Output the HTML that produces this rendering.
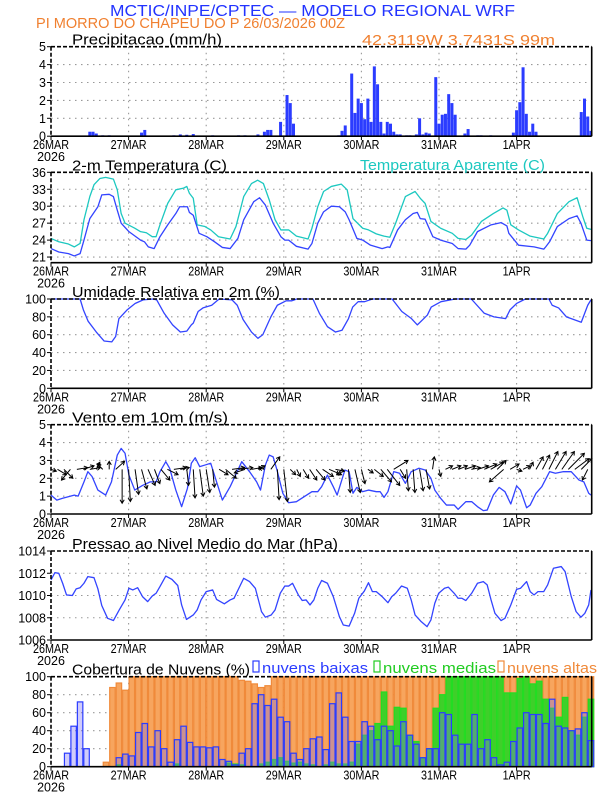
<!DOCTYPE html>
<html><head><meta charset="utf-8">
<style>
html,body{margin:0;padding:0;background:#fff;}
svg{display:block;font-family:"Liberation Sans",sans-serif;}
</style></head>
<body>
<svg id="chart" width="612" height="792" viewBox="0 0 612 792" xmlns="http://www.w3.org/2000/svg">
<text x="110" y="16" font-size="16" fill="#2233ff" textLength="405" lengthAdjust="spacingAndGlyphs">MCTIC/INPE/CPTEC — MODELO REGIONAL WRF</text>
<text x="36" y="28" font-size="15" fill="#f08030" textLength="309" lengthAdjust="spacingAndGlyphs">PI MORRO DO CHAPEU DO P  26/03/2026 00Z</text>
<text x="362" y="45" font-size="15" fill="#f08030" textLength="193" lengthAdjust="spacingAndGlyphs">42.3119W 3.7431S 99m</text>
<g id="layer"></g>
</svg>
<script>
// ---------- DATA ----------
const dayLabels = ["26MAR","27MAR","28MAR","29MAR","30MAR","31MAR","1APR"];
const precipHours = [12,13,13,14,16,18,28,29,38,40,42,44,50,58,60,64,66,67,68,71,73,74,75,89,90,91,93,94,95,96,97,98,99,100,101,102,103,104,105,106,107,108,110,111,113,114,115,116,117,119,120,121,122,123,124,125,128,129,132,133,136,143,144,145,146,147,148,149,150,164,165,166,167];
const precipValues = [0.25,0.25,0.15,0.15,0.05,0.05,0.2,0.35,0.05,0.1,0.08,0.12,0.05,0.05,0.05,0.1,0.25,0.35,0.35,0.8,2.3,1.85,0.7,0.05,0.3,0.6,3.5,1.3,2.1,1.85,0.95,2.1,0.8,3.9,2.9,0.8,0.15,0.8,0.7,0.25,0.1,0.1,0.05,0.05,0.1,1.0,0.1,0.2,0.15,3.3,0.7,1.2,1.25,2.35,1.85,1.2,0.15,0.4,0.05,0.05,0.05,0.2,1.45,1.9,3.85,1.25,0.25,0.7,0.25,1.35,2.1,1.1,0.3];
const tempHours = [0,2.4,5.4,7.2,9,10.2,12,14.5,15.7,18,19.3,20.5,21.7,24.1,27.7,28.9,30.1,31.9,33.7,36.1,38.6,39.8,42.2,42.8,44,45.8,48.2,50.6,53,55.4,57.8,59.6,62.7,64.5,66.3,68.7,71.1,72.3,73.5,75.9,79.5,80.7,82.5,84.3,86.7,89.2,91,92.2,94.6,96.4,98.8,102.4,104.2,104.8,107.2,109.6,112,113.3,114.2,115.7,118.1,120.5,124.1,125.9,128.3,129.5,131.9,136.1,139.2,141,141.6,144.6,149.4,152.4,153,154.2,156.6,160.2,162.7,163.9,165.7,167];
const tempValues = [22.5,21.9,21.6,21.2,21.6,24,27.8,29.9,32,32.1,31.7,29.3,27,25.5,24,23.7,22.8,22.5,24.6,26.7,28.7,29.9,29.9,28.9,28.4,25.2,24.6,23.7,22.7,22.5,24.3,27.6,30.8,31.5,30.2,27,24.6,24,24,22.9,22.4,23.4,27,29,30,29.9,29,27.6,24.3,24,23.1,22.5,22.8,22.7,25.8,27.6,28.7,28.9,27.8,27.7,24.6,24,23.4,22.5,22.4,23.1,25.5,26.7,27.1,26.5,25.2,23.1,22.8,22.4,22.8,23.7,26.4,27.8,28.3,27,24,23.9];
const appHours = [0,2.4,5.4,7.2,9,10.2,12,13.3,15.1,16.9,19.3,20.5,21.7,22.9,25.9,27.7,29.5,31.3,32.5,33.7,36.1,38.6,41,42,42.8,44,45.2,47.6,49.4,51.8,55.4,57.2,59.6,62,63.9,65.7,67.5,69.3,71.1,73.5,75.9,79.5,80.7,82.5,84.3,86.7,89.8,91.6,93.4,96.4,98.2,100.6,103,104.8,106.6,109.6,112.6,114.2,115.7,117.5,120.5,124.1,125.9,128.3,130.1,133.1,136.8,139.8,141,142.2,144.6,148.2,152.4,153.6,156.6,160.2,162.7,164.5,165.7,167];
const appValues = [24.3,23.7,23.3,22.8,23.4,27.6,31.7,33.8,34.9,35.1,34.8,32.9,28.7,27,26.1,25.5,25.3,24.6,24.6,26.7,30.5,32.9,33.2,33.5,32.3,31.4,26.7,26.4,25.8,24.6,24.2,26.4,31.7,34,34.6,34,31.1,27.6,25.8,25.8,24.7,24.2,26.1,29.9,32.6,33.5,33.9,32.9,27.8,26.1,25.8,25.1,24.7,24.5,27,31.7,32.6,31.4,30.5,27.3,26.1,25.2,24.3,24.1,24.9,27.3,28.7,29.7,29.3,26.7,25.8,24.7,24.2,25.2,28.7,30.8,31.5,28.1,26.1,25.9];
const rhHours = [0,9,10,11.5,14,16.4,18.8,20,21,23.6,26,28.5,31.5,32.7,35,37.6,40,42,43.4,44,45.5,47,49.7,52,56,57.6,59.4,62,64,65.5,68,70,72.7,74.5,76,81,83,85.5,88,90,92,93.3,95,97,99.4,105.5,108.5,111.5,113.3,115,116.4,117.6,120.6,125,130,134,137,140.6,142,144,146.7,154,155,157,159.4,164,166,167];
const rhValues = [100,100,88,75,63,53,52,58,78,88,95,99,100,99,84,71,63,64,71,73,86,90,93,100,99,93,77,63,56,60,80,93,98,98,100,100,84,69,63,65,78,91,97,97,100,100,86,78,71,77,82,91,97,100,100,84,80,78,88,95,100,100,93,90,80,74,93,99];
const windHours = [0,1.8,3.6,7.2,8.4,10.2,11.4,12.7,14.5,16.9,18.7,20.5,21.7,22.9,24.1,25.9,28.3,30.7,32.5,33.7,35.5,36.7,38.6,40.4,42.2,43.4,44.6,46,47.6,49.4,51.2,53,55.4,57.8,59,61.4,63.6,64.8,66.3,67.5,68.7,69.9,71.7,73.5,75.9,78.3,80.7,82.5,83.7,85.5,87.3,88.5,90.1,90.9,92.2,93.4,94.6,96.4,98.2,100.6,101.8,103,104.2,106,107.8,109.6,111.4,113.8,115.7,117.5,118.7,120.5,122.3,124.7,125.9,128.3,130.1,131.9,133.7,134.9,136.8,138.6,140.4,142.2,144,145.2,147.1,148.2,150,151.8,154.2,156,158.5,160.9,163.3,164.8,166.3,167];
const windSpeed = [1.06,0.78,0.88,1.06,1.0,1.8,2.37,2.1,1.34,1.06,1.8,3.3,3.67,3.4,2.18,1.34,1.6,1.8,1.8,2.37,2.93,2.56,1.34,0.41,1.44,2.84,3.15,2.65,2.74,2.84,1.8,0.78,1.53,2.46,2.93,2.37,1.8,1.34,2.74,3.3,3.2,2.46,1.16,0.63,0.69,0.97,1.25,1.25,1.53,2.18,1.53,1.06,2.0,2.46,2.37,1.16,1.49,1.25,1.34,1.25,1.25,0.93,1.25,2.37,2.28,1.72,2.37,2.56,2.46,2.0,1.34,0.88,0.5,0.5,0.26,0.69,0.69,0.41,0.19,0.22,1.06,1.49,1.25,0.56,1.57,1.34,0.35,0.5,1.16,1.53,2.37,2.28,2.37,2.37,1.9,1.8,1.16,1.06];
const windU = [0.3,0.5,0.5,-0.5,0.6,0.6,0.6,0.2,-0.3,0,0.5,0,0.1,0.2,0.3,0.4,0.3,0.5,0.6,0.7,0.5,0.1,0.1,0.2,0.2,0.1,0.5,0.6,0.7,0.8,-0.6,0.6,0.4,-0.3,0.5,0.1,0.2,0.3,0.2,0.3,0.4,0.5,0.6,0.7,0.5,-0.3,0.1,0.3,0.2,0.3,0.5,0.6,0.7,0.8,0.3,0.1,0.1,0.2,0.2,0.1,0.1,0.4,0.5,0.5,0.6,0.5,0.6,0.7,0.7,0.5,-0.8,0.5,0.3,0.4,0.2,0.4,0.4,0.5,0.6,0.7,0.9,0.8,0.6,-0.3];
const windV = [-0.1,-0.3,-0.5,-0.6,0.1,0.2,0.1,0.4,0.3,0.45,0.45,-1.9,-1.8,-1.4,-1.1,-0.9,-0.8,-0.6,-0.3,0.1,0.1,-0.9,-1.6,-1.5,-1.3,-1.0,-0.3,-0.5,0.1,0.1,-0.2,0.1,0.2,0.1,0.7,-1.7,-1.8,-0.3,-0.4,-0.5,-0.6,-0.6,-0.4,-0.3,-0.1,-0.3,-1.3,-1.3,-0.8,-0.2,-0.4,-0.7,-0.9,0.5,-0.5,-1.2,-1.3,-1.2,-1.1,0.7,-0.4,0.2,0.2,0.2,0.2,0.1,0.2,0.3,0.4,0.5,-0.7,0.3,-0.1,0.2,0.4,0.7,0.8,1.0,1.0,1.0,0.9,0.6,0.6,-0.6];
const presHours = [0,1.2,2.4,3.6,4.8,6.6,7.8,9,10.2,11.4,13.3,14.5,15.7,17.5,19.3,21.1,22.9,24.1,25.3,26.8,28.3,29.9,31.3,32.5,33.7,35.5,37.4,39.2,40.4,41.9,44,45.2,46.4,48,50,51.2,53.6,55.4,56.6,58.1,59.6,61.4,63.2,65.1,66.3,68.1,69.3,70.9,72.3,73.5,74.7,76.5,77.7,78.9,80.1,81.3,82.5,83.7,85.5,87.3,89.2,90.4,92.2,93.9,95.2,96.9,98.2,99.4,100.6,102.4,104.2,105.4,106.6,108.4,110.2,111.4,112.6,114.5,116.3,117.5,118.7,119.9,121.7,122.9,124.7,125.9,127.1,128.3,130.1,131.9,133.7,134.9,136.1,137.3,139.2,140.4,142.2,144,145.2,147.1,148.2,149.4,150.6,152.4,153.6,155.4,157.8,159,160.9,162.4,163.9,165.1,166.3,167];
const presValues = [1011.4,1012.05,1012,1011.1,1010.05,1010,1010.6,1010.7,1011.1,1011.7,1011.6,1010.6,1009.1,1007.95,1007.75,1008.7,1009.6,1010.65,1010.5,1010.7,1009.9,1009.45,1009.95,1010.2,1010.8,1011.75,1011.45,1010.9,1009.15,1007.85,1008.25,1008.7,1009.6,1010.35,1010.5,1009.65,1009.25,1009.6,1009.75,1010.65,1011.55,1011.25,1010.65,1008.55,1008.05,1008.25,1008.7,1010.2,1010.85,1010.85,1011.1,1010.05,1009.55,1009.6,1009.15,1009.6,1010.65,1011.35,1011.1,1009.9,1008.1,1007.35,1007.25,1008.4,1009.75,1010.4,1011.15,1010.35,1010.35,1009.9,1009.35,1009.9,1010.2,1010.85,1010.65,1009.6,1008.25,1007.65,1007.2,1007.8,1009.3,1010.2,1010.65,1010.75,1010.2,1009.75,1009.75,1009.55,1010.2,1011.1,1011.25,1010.95,1009.6,1008.4,1007.75,1007.95,1009.15,1010.55,1010.65,1011.25,1010.35,1010.05,1010.35,1010.35,1010.95,1012.45,1012.6,1012.15,1009.9,1008.55,1008.05,1008.4,1009.15,1010.5];
const cloudHigh = [0,0,0,0,0,0,0,0,5,88,93,85,100,100,100,100,100,100,100,100,100,100,100,100,100,100,100,100,100,96,95,92,88,90,100,100,100,100,100,100,100,100,100,100,100,100,100,100,100,100,100,100,100,100,100,100,100,100,100,100,100,100,100,100,100,100,100,100,100,100,100,100,100,100,100,100,100,100,100,100,100,100,100,100];
const cloudMid = [0,0,0,0,0,0,0,0,0,0,2,0,0,0,0,0,0,0,0,3,0,0,0,0,0,0,0,4,3,2,0,0,3,5,8,10,6,4,5,3,2,0,2,5,3,3,5,25,35,40,48,83,45,66,65,35,28,10,20,65,80,100,100,100,100,100,100,100,100,100,82,82,98,100,92,95,75,65,55,77,40,35,55,75];
const cloudLow = [0,0,15,45,72,20,0,0,0,0,10,14,12,38,48,22,40,20,5,30,45,27,22,22,21,22,8,6,2,15,20,70,80,68,75,55,50,15,8,20,31,33,19,70,82,55,28,28,50,45,30,45,40,23,50,35,25,10,20,20,60,58,35,25,25,58,20,30,10,2,5,28,43,60,58,58,48,75,45,43,40,42,60,29];

// ---------- LAYOUT ----------
const NS = "http://www.w3.org/2000/svg";
const layer = document.getElementById('layer');
const X0 = 51, X1 = 591.7, HMAX = 167, PXDAY = 77.6;
function X(h){ return X0 + h*PXDAY/24; }
function mk(tag, attrs, parent){
  const e = document.createElementNS(NS, tag);
  for (const k in attrs) e.setAttribute(k, attrs[k]);
  (parent||layer).appendChild(e);
  return e;
}
function txt(s, x, y, size, fill, anchor, parent){
  const t = mk('text', {x:x, y:y, 'font-size':size, fill:fill, 'text-anchor':anchor||'start'}, parent);
  t.textContent = s;
  return t;
}
function panel(name, top, bottom, vmin, vmax, ticks, title, titleLen){
  const g = mk('g', {});
  
  
  const Y = v => bottom - (v - vmin)/(vmax - vmin)*(bottom - top);
  // grid
  ticks.forEach(v => {
    if (v > vmin && v < vmax) {
      const l = mk('line', {x1:X0, x2:X1, y1:Y(v), y2:Y(v), stroke:'#999', 'stroke-width':1.1, 'stroke-dasharray':'1.5 4.5'}, g);
      
      
    }
  });
  for (let d=1; d<7; d++){
    const l = mk('line', {x1:X(d*24), x2:X(d*24), y1:top, y2:bottom, stroke:'#999', 'stroke-width':1.1, 'stroke-dasharray':'1.5 4.5'}, g);
    
    
  }
  // y ticks
  ticks.forEach(v => {
    mk('line', {x1:X0-4, x2:X0, y1:Y(v), y2:Y(v), stroke:'#000', 'stroke-width':1}, g);
    const t = txt(String(v), X0-5, Y(v)+4.5, 12.5, '#000', 'end', g);
    
    
  });
  // x labels
  dayLabels.forEach((s, d) => {
    mk('line', {x1:X(d*24), x2:X(d*24), y1:bottom, y2:bottom+4, stroke:'#000', 'stroke-width':1}, g);
    const t = txt(s, X(d*24), bottom+13, 12.5, '#000', 'middle', g);
    
    
    t.setAttribute('textLength', s.length>4 ? 36 : 28);
    t.setAttribute('lengthAdjust', 'spacingAndGlyphs');
  });
  const yr = txt('2026', X0, bottom+25, 12.5, '#000', 'middle', g);
  
  
  const tt = txt(title, 72, top-2, 15, '#000', 'start', g);
  tt.setAttribute('textLength', titleLen);
  tt.setAttribute('lengthAdjust', 'spacingAndGlyphs');
  
  
  return {g, Y, top, bottom};
}
function frame(p){
  mk('line', {x1:X0, x2:X1, y1:p.top, y2:p.top, stroke:'#000', 'stroke-width':1.6, 'stroke-dasharray':'4 2'}, p.g);
  mk('line', {x1:X0, x2:X0, y1:p.top, y2:p.bottom, stroke:'#000', 'stroke-width':1.6, 'stroke-dasharray':'4 2'}, p.g);
  mk('line', {x1:X1, x2:X1, y1:p.top, y2:p.bottom, stroke:'#000', 'stroke-width':1.6}, p.g);
  mk('line', {x1:X0, x2:X1, y1:p.bottom, y2:p.bottom, stroke:'#000', 'stroke-width':1.6}, p.g);
}
function linePath(p, hours, vals, color, name){
  let d = '';
  hours.forEach((h,i) => { d += (i?'L':'M') + X(h).toFixed(2) + ',' + p.Y(vals[i]).toFixed(2); });
  const e = mk('path', {d:d, fill:'none', stroke:color, 'stroke-width':1.3, 'stroke-linejoin':'round'}, p.g);
  
  
}

// Panel 1: precipitation
const p1 = panel('precip-panel', 46.7, 136.2, 0, 5, [0,1,2,3,4,5], 'Precipitacao (mm/h)', 150);
precipHours.forEach((h,i) => {
  const b = mk('rect', {x:X(h)-1.5, y:p1.Y(precipValues[i]), width:3, height:p1.bottom - p1.Y(precipValues[i]), fill:'#2b3cff'}, p1.g);
  
  
});
frame(p1);

// Panel 2: temperature
const p2 = panel('temperature-panel', 172.3, 262.7, 20, 36, [21,24,27,30,33,36], '2-m Temperatura (C)', 155);
linePath(p2, appHours, appValues, '#1cc8c0', 'apparent-temp-line');
linePath(p2, tempHours, tempValues, '#3344ff', 'temp-line');
frame(p2);
const at = txt('Temperatura Aparente (C)', 360, 170, 15, '#1cc8c0', 'start');
at.setAttribute('textLength', 185);
at.setAttribute('lengthAdjust', 'spacingAndGlyphs');



// Panel 3: RH
const p3 = panel('humidity-panel', 299, 388.3, 0, 100, [0,20,40,60,80,100], 'Umidade Relativa em 2m (%)', 208);
linePath(p3, rhHours, rhValues, '#3344ff', 'humidity-line');
frame(p3);

// Panel 4: wind
const p4 = panel('wind-panel', 424.7, 514, 0, 5, [0,1,2,3,4,5], 'Vento em 10m (m/s)', 156);
linePath(p4, windHours, windSpeed, '#3344ff', 'wind-speed-line');
const scale = (p4.bottom - p4.top)/5;
windU.forEach((u,i) => {
  const h = i*2;
  const x0 = X(h), y0 = p4.Y(2.5);
  const x1 = x0 + u*scale, y1 = y0 - windV[i]*scale;
  const len = Math.hypot(x1-x0, y1-y0) || 1;
  const ux = (x1-x0)/len, uy = (y1-y0)/len;
  const hl = 3.5;
  const ax = x1 - ux*hl - uy*hl*0.6, ay = y1 - uy*hl + ux*hl*0.6;
  const bx = x1 - ux*hl + uy*hl*0.6, by = y1 - uy*hl - ux*hl*0.6;
  const a = mk('path', {d:`M${x0},${y0}L${x1},${y1}M${ax},${ay}L${x1},${y1}L${bx},${by}`, stroke:'#000', 'stroke-width':1, fill:'none'}, p4.g);
  
  
});
frame(p4);

// Panel 5: pressure
const p5 = panel('pressure-panel', 551, 640, 1006, 1014, [1006,1008,1010,1012,1014], 'Pressao ao Nivel Medio do Mar (hPa)', 266);
linePath(p5, presHours, presValues, '#3344ff', 'pressure-line');
frame(p5);

// Panel 6: clouds
const p6 = panel('cloud-panel', 676.7, 766.7, 0, 100, [0,20,40,60,80,100], 'Cobertura de Nuvens (%)', 178);
function cloudBars(vals, fill, stroke, name){
  vals.forEach((v,i) => {
    if (v <= 0) return;
    const h = i*2;
    const w = X(h+2) - X(h);
    const b = mk('rect', {x:X(h)+0.5, y:p6.Y(v), width:w-1, height:p6.bottom - p6.Y(v), fill:fill, stroke:stroke, 'stroke-width':1.2}, p6.g);
    
    
  });
}
cloudBars(cloudHigh, '#f7a55e', '#f08a3a', 'cloud-high-bar');
cloudBars(cloudMid, '#3fcf2a', '#22dd22', 'cloud-mid-bar');
cloudBars(cloudLow, 'rgba(120,110,240,0.35)', '#2b3cff', 'cloud-low-bar');
frame(p6);
function legend(x, label, color, len, name){
  const g = mk('g', {});
  
  
  mk('rect', {x:x, y:661, width:6, height:11, fill:'none', stroke:color, 'stroke-width':1.2}, g);
  const t = txt(label, x+9, 673, 15, color, 'start', g);
  t.setAttribute('textLength', len);
  t.setAttribute('lengthAdjust', 'spacingAndGlyphs');
}
legend(253, 'nuvens baixas', '#2b3cff', 106, 'legend-low-clouds');
legend(374, 'nuvens medias', '#22cc22', 113, 'legend-mid-clouds');
legend(498, 'nuvens altas', '#f08a3a', 90, 'legend-high-clouds');
</script>
</body></html>
